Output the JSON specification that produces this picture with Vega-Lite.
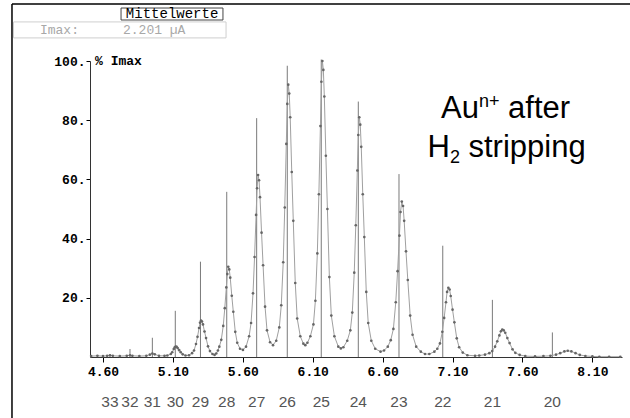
{
  "$schema": "https://vega.github.io/schema/vega-lite/v6.json",
  "width": 532,
  "height": 296,
  "autosize": {"type": "none"},
  "padding": {"left": 90, "top": 61, "right": 8, "bottom": 61},
  "background": "white",
  "config": {"view": {"stroke": null}},
  "datasets": {
    "one": [{}],
    "curve": [
      {"x":4.515,"y":0.3},{"x":4.56,"y":0.4},{"x":4.60,"y":0.3},{"x":4.63,"y":0.4},{"x":4.65,"y":0.6},{"x":4.67,"y":0.4},{"x":4.72,"y":0.3},{"x":4.77,"y":0.4},{"x":4.793,"y":0.6},{"x":4.81,"y":0.4},{"x":4.86,"y":0.3},{"x":4.91,"y":0.4},{"x":4.935,"y":0.8},{"x":4.953,"y":1.2},{"x":4.97,"y":0.9},{"x":5.00,"y":0.4},{"x":5.04,"y":0.4},
      {"x":5.06,"y":0.5},{"x":5.085,"y":1.0},{"x":5.095,"y":1.6},{"x":5.106,"y":2.7},{"x":5.113,"y":3.3},{"x":5.120,"y":3.5},{"x":5.127,"y":3.4},{"x":5.134,"y":3.0},{"x":5.145,"y":2.3},{"x":5.156,"y":1.6},{"x":5.17,"y":0.9},{"x":5.19,"y":0.5},
      {"x":5.215,"y":0.6},{"x":5.237,"y":1.3},{"x":5.251,"y":2.2},{"x":5.265,"y":4.4},{"x":5.276,"y":6.8},{"x":5.287,"y":9.8},{"x":5.294,"y":11.6},{"x":5.301,"y":12.3},{"x":5.308,"y":12.0},{"x":5.315,"y":11.0},{"x":5.326,"y":8.6},{"x":5.337,"y":6.4},{"x":5.351,"y":3.6},{"x":5.365,"y":2.0},{"x":5.383,"y":1.0},{"x":5.398,"y":0.7},
      {"x":5.410,"y":1.2},{"x":5.422,"y":2.2},{"x":5.432,"y":3.5},{"x":5.446,"y":5.8},{"x":5.460,"y":10.5},{"x":5.471,"y":16.5},{"x":5.482,"y":23.5},{"x":5.489,"y":28.0},{"x":5.496,"y":30.5},{"x":5.503,"y":29.6},{"x":5.510,"y":26.8},{"x":5.521,"y":20.7},{"x":5.532,"y":15.3},{"x":5.546,"y":8.5},{"x":5.560,"y":4.8},{"x":5.580,"y":2.8},{"x":5.601,"y":2.4},
      {"x":5.623,"y":3.5},{"x":5.645,"y":7.0},{"x":5.659,"y":11.5},{"x":5.673,"y":21.5},{"x":5.684,"y":33.8},{"x":5.695,"y":48.0},{"x":5.702,"y":57.0},{"x":5.709,"y":61.5},{"x":5.716,"y":59.7},{"x":5.723,"y":54.0},{"x":5.734,"y":42.0},{"x":5.745,"y":31.0},{"x":5.759,"y":17.0},{"x":5.773,"y":9.0},{"x":5.795,"y":5.0},{"x":5.816,"y":4.0},
      {"x":5.839,"y":5.5},{"x":5.861,"y":10.0},{"x":5.875,"y":17.5},{"x":5.889,"y":32.0},{"x":5.900,"y":50.5},{"x":5.911,"y":72.0},{"x":5.918,"y":85.5},{"x":5.925,"y":92.0},{"x":5.932,"y":89.0},{"x":5.939,"y":81.0},{"x":5.950,"y":62.5},{"x":5.961,"y":46.0},{"x":5.975,"y":25.0},{"x":5.989,"y":13.0},{"x":6.011,"y":7.0},{"x":6.033,"y":4.5},{"x":6.047,"y":4.0},
      {"x":6.062,"y":4.8},{"x":6.083,"y":7.0},{"x":6.105,"y":11.0},{"x":6.119,"y":19.0},{"x":6.133,"y":35.0},{"x":6.144,"y":55.0},{"x":6.155,"y":78.0},{"x":6.162,"y":93.0},{"x":6.169,"y":100.0},{"x":6.176,"y":97.0},{"x":6.183,"y":88.0},{"x":6.194,"y":68.0},{"x":6.205,"y":50.0},{"x":6.219,"y":27.0},{"x":6.233,"y":14.0},{"x":6.255,"y":7.0},{"x":6.283,"y":3.5},{"x":6.301,"y":2.9},
      {"x":6.319,"y":3.3},{"x":6.347,"y":5.5},{"x":6.369,"y":9.0},{"x":6.383,"y":15.0},{"x":6.397,"y":28.5},{"x":6.408,"y":44.5},{"x":6.419,"y":63.0},{"x":6.426,"y":75.0},{"x":6.433,"y":81.0},{"x":6.440,"y":78.5},{"x":6.447,"y":71.0},{"x":6.458,"y":55.0},{"x":6.469,"y":40.5},{"x":6.483,"y":22.0},{"x":6.497,"y":11.5},{"x":6.519,"y":5.5},{"x":6.547,"y":2.8},{"x":6.585,"y":1.8},
      {"x":6.610,"y":2.2},{"x":6.637,"y":3.5},{"x":6.658,"y":5.7},{"x":6.677,"y":9.5},{"x":6.694,"y":18.5},{"x":6.707,"y":29.0},{"x":6.720,"y":41.0},{"x":6.728,"y":49.0},{"x":6.737,"y":52.5},{"x":6.746,"y":51.0},{"x":6.754,"y":46.0},{"x":6.767,"y":35.7},{"x":6.780,"y":26.0},{"x":6.797,"y":14.0},{"x":6.814,"y":7.5},{"x":6.840,"y":3.5},{"x":6.873,"y":1.8},{"x":6.903,"y":1.0},
      {"x":6.934,"y":1.0},{"x":6.970,"y":1.8},{"x":6.991,"y":2.8},{"x":7.010,"y":4.6},{"x":7.027,"y":8.5},{"x":7.040,"y":13.2},{"x":7.053,"y":18.5},{"x":7.061,"y":22.0},{"x":7.070,"y":23.4},{"x":7.079,"y":22.8},{"x":7.087,"y":20.6},{"x":7.100,"y":16.0},{"x":7.113,"y":11.7},{"x":7.130,"y":6.3},{"x":7.147,"y":3.3},{"x":7.173,"y":1.5},{"x":7.206,"y":0.6},{"x":7.261,"y":0.4},
      {"x":7.291,"y":0.5},{"x":7.332,"y":0.8},{"x":7.363,"y":1.3},{"x":7.384,"y":2.0},{"x":7.404,"y":3.5},{"x":7.420,"y":5.3},{"x":7.435,"y":7.3},{"x":7.446,"y":8.7},{"x":7.456,"y":9.3},{"x":7.466,"y":9.0},{"x":7.477,"y":8.2},{"x":7.492,"y":6.4},{"x":7.508,"y":4.7},{"x":7.529,"y":2.6},{"x":7.549,"y":1.4},{"x":7.580,"y":0.7},{"x":7.62,"y":0.3},{"x":7.69,"y":0.2},
      {"x":7.75,"y":0.3},{"x":7.80,"y":0.4},{"x":7.84,"y":0.8},{"x":7.87,"y":1.3},{"x":7.90,"y":1.9},{"x":7.924,"y":2.1},{"x":7.95,"y":1.9},{"x":7.98,"y":1.3},{"x":8.01,"y":0.7},{"x":8.05,"y":0.35},{"x":8.10,"y":0.2},{"x":8.15,"y":0.1},{"x":8.22,"y":0.1},{"x":8.30,"y":0.1}
    ],
    "sticks": [
      {"n":"33","x":4.650,"h":0.8},{"n":"32","x":4.793,"h":2.7},{"n":"31","x":4.953,"h":6.5},{"n":"30","x":5.117,"h":15.6},{"n":"29","x":5.297,"h":32.2},{"n":"28","x":5.485,"h":55.8},{"n":"27","x":5.699,"h":80.7},{"n":"26","x":5.918,"h":98.4},{"n":"25","x":6.161,"h":100.5},{"n":"24","x":6.426,"h":86.3},{"n":"23","x":6.717,"h":61.8},{"n":"22","x":7.030,"h":37.6},{"n":"21","x":7.385,"h":19.3},{"n":"20","x":7.814,"h":8.3}
    ]
  },
  "layer": [
    {
      "data": {"name": "sticks"},
      "mark": {"type": "rule", "color": "#7a7a7a", "strokeWidth": 1},
      "encoding": {
        "x": {"field": "x", "type": "quantitative",
              "scale": {"domain": [4.507, 8.312], "nice": false, "zero": false},
              "axis": {"title": null, "values": [4.6,5.1,5.6,6.1,6.6,7.1,7.6,8.1], "format": ".2f", "grid": false,
                       "domainColor": "#333", "tickColor": "#000", "tickSize": 5, "labelPadding": 3,
                       "labelFont": "Liberation Mono", "labelFontWeight": "bold", "labelFontSize": 13, "labelColor": "#000"}},
        "y": {"field": "h", "type": "quantitative",
              "scale": {"domain": [0, 100], "nice": false},
              "axis": {"title": null, "values": [20,40,60,80,100], "labelExpr": "datum.value + '.'", "grid": false,
                       "domainColor": "#333", "tickColor": "#000", "tickSize": 4, "labelPadding": 1,
                       "labelFont": "Liberation Mono", "labelFontWeight": "bold", "labelFontSize": 13, "labelColor": "#000"}},
        "y2": {"datum": 0}
      }
    },
    {
      "data": {"name": "curve"},
      "mark": {"type": "line", "color": "#a0a0a0", "strokeWidth": 1},
      "encoding": {
        "x": {"field": "x", "type": "quantitative"},
        "y": {"field": "y", "type": "quantitative"}
      }
    },
    {
      "data": {"name": "curve"},
      "mark": {"type": "point", "filled": true, "color": "#666666", "size": 7, "opacity": 1},
      "encoding": {
        "x": {"field": "x", "type": "quantitative"},
        "y": {"field": "y", "type": "quantitative"}
      }
    },
    {
      "data": {"name": "sticks"},
      "mark": {"type": "text", "font": "Liberation Sans", "fontSize": 15.5, "color": "#555", "baseline": "alphabetic", "align": "center"},
      "encoding": {
        "x": {"field": "x", "type": "quantitative"},
        "y": {"datum": -16.9},
        "text": {"field": "n"}
      }
    },
    {
      "data": {"name": "one"},
      "mark": {"type": "rule", "color": "#000", "strokeWidth": 1.5},
      "encoding": {"x": {"datum": 3.949, "type": "quantitative"}, "x2": {"datum": 8.40}, "y": {"datum": 119.26, "type": "quantitative"}}
    },
    {
      "data": {"name": "one"},
      "mark": {"type": "rule", "color": "#000", "strokeWidth": 1.5},
      "encoding": {"x": {"datum": 3.949, "type": "quantitative"}, "y": {"datum": 119.26, "type": "quantitative"}, "y2": {"datum": -22}}
    },
    {
      "data": {"name": "one"},
      "mark": {"type": "rect", "fill": "white", "stroke": "#444", "strokeWidth": 1},
      "encoding": {"x": {"datum": 4.729, "type": "quantitative"}, "x2": {"datum": 5.458}, "y": {"datum": 117.9, "type": "quantitative"}, "y2": {"datum": 113.85}}
    },
    {
      "data": {"name": "one"},
      "mark": {"type": "rect", "fill": "white", "stroke": "#cfcfcf", "strokeWidth": 1},
      "encoding": {"x": {"datum": 3.96, "type": "quantitative"}, "x2": {"datum": 5.48}, "y": {"datum": 113.2, "type": "quantitative"}, "y2": {"datum": 107.8}}
    },
    {
      "data": {"name": "one"},
      "mark": {"type": "text", "text": "Mittelwerte", "font": "Liberation Mono", "fontSize": 14, "color": "#000", "align": "center", "baseline": "middle"},
      "encoding": {"x": {"datum": 5.094, "type": "quantitative"}, "y": {"datum": 115.9, "type": "quantitative"}}
    },
    {
      "data": {"name": "one"},
      "mark": {"type": "text", "text": "Imax:", "font": "Liberation Mono", "fontSize": 13, "color": "#a8a8a8", "align": "left", "baseline": "middle"},
      "encoding": {"x": {"datum": 4.149, "type": "quantitative"}, "y": {"datum": 110.5, "type": "quantitative"}}
    },
    {
      "data": {"name": "one"},
      "mark": {"type": "text", "text": "2.201 µA", "font": "Liberation Mono", "fontSize": 13, "color": "#a8a8a8", "align": "left", "baseline": "middle"},
      "encoding": {"x": {"datum": 4.743, "type": "quantitative"}, "y": {"datum": 110.5, "type": "quantitative"}}
    },
    {
      "data": {"name": "one"},
      "mark": {"type": "text", "text": "% Imax", "font": "Liberation Mono", "fontWeight": "bold", "fontSize": 13, "color": "#000", "align": "left", "baseline": "middle"},
      "encoding": {"x": {"datum": 4.543, "type": "quantitative"}, "y": {"datum": 100, "type": "quantitative"}}
    },
    {
      "data": {"name": "one"},
      "mark": {"type": "text", "text": "Au", "font": "Liberation Sans", "fontSize": 31, "color": "#000", "align": "left", "baseline": "alphabetic"},
      "encoding": {"x": {"datum": 7.018, "type": "quantitative"}, "y": {"datum": 80.7, "type": "quantitative"}}
    },
    {
      "data": {"name": "one"},
      "mark": {"type": "text", "text": "n+", "font": "Liberation Sans", "fontSize": 18, "color": "#000", "align": "left", "baseline": "alphabetic"},
      "encoding": {"x": {"datum": 7.289, "type": "quantitative"}, "y": {"datum": 84.5, "type": "quantitative"}}
    },
    {
      "data": {"name": "one"},
      "mark": {"type": "text", "text": "after", "font": "Liberation Sans", "fontSize": 31, "color": "#000", "align": "left", "baseline": "alphabetic"},
      "encoding": {"x": {"datum": 7.497, "type": "quantitative"}, "y": {"datum": 80.7, "type": "quantitative"}}
    },
    {
      "data": {"name": "one"},
      "mark": {"type": "text", "text": "H", "font": "Liberation Sans", "fontSize": 31, "color": "#000", "align": "left", "baseline": "alphabetic"},
      "encoding": {"x": {"datum": 6.921, "type": "quantitative"}, "y": {"datum": 67.6, "type": "quantitative"}}
    },
    {
      "data": {"name": "one"},
      "mark": {"type": "text", "text": "2", "font": "Liberation Sans", "fontSize": 18, "color": "#000", "align": "left", "baseline": "alphabetic"},
      "encoding": {"x": {"datum": 7.081, "type": "quantitative"}, "y": {"datum": 65.5, "type": "quantitative"}}
    },
    {
      "data": {"name": "one"},
      "mark": {"type": "text", "text": "stripping", "font": "Liberation Sans", "fontSize": 31, "color": "#000", "align": "left", "baseline": "alphabetic"},
      "encoding": {"x": {"datum": 7.214, "type": "quantitative"}, "y": {"datum": 67.6, "type": "quantitative"}}
    }
  ]
}
